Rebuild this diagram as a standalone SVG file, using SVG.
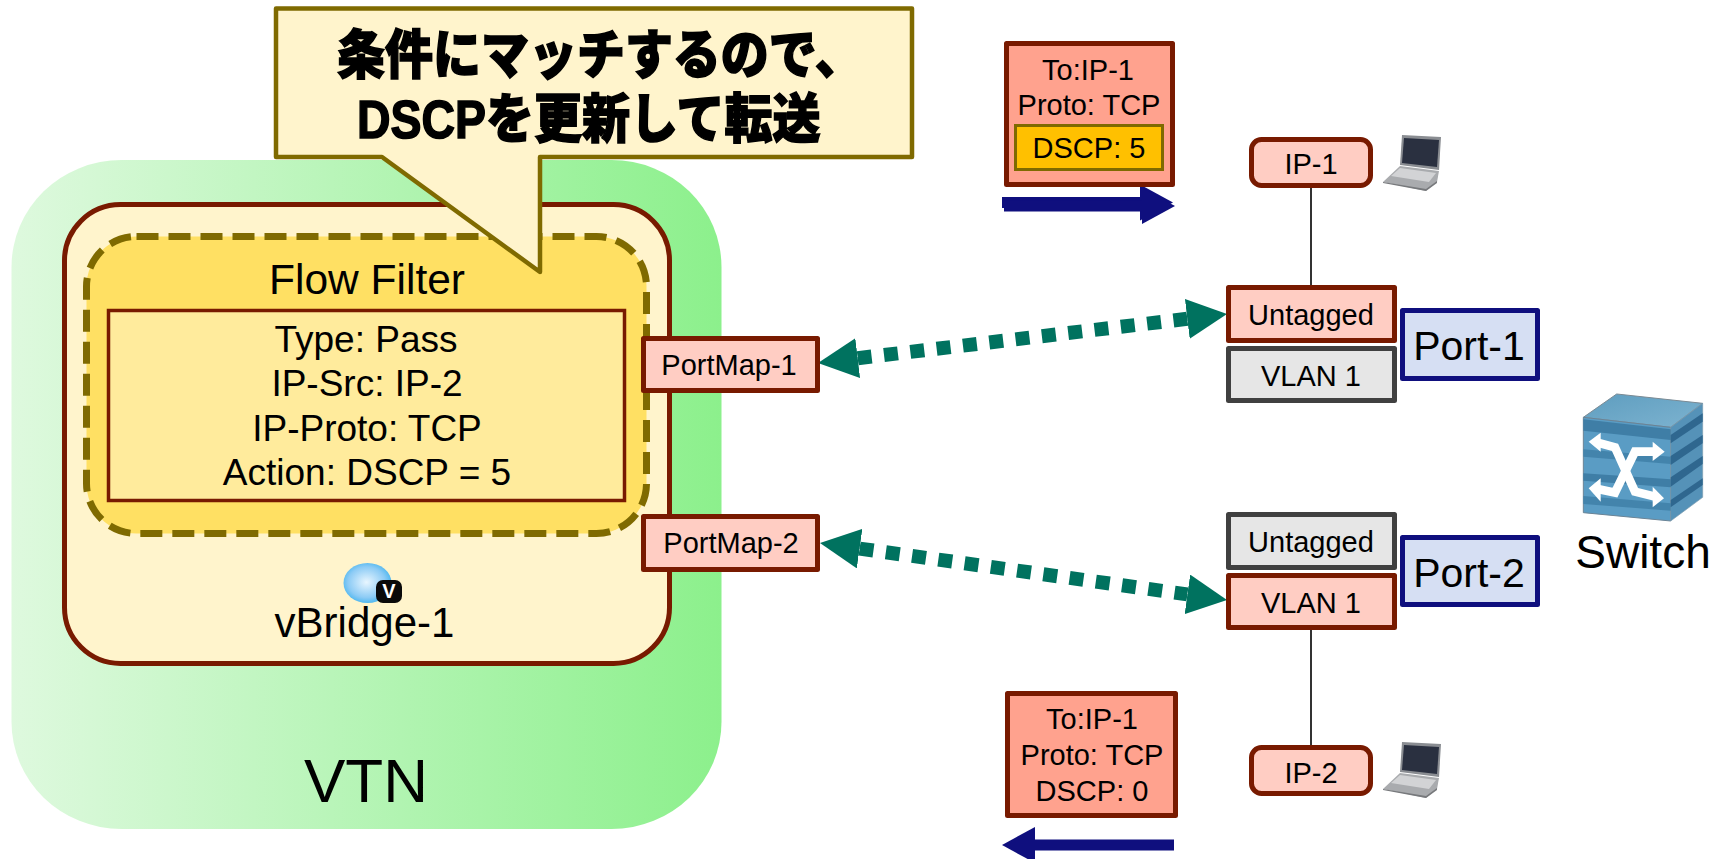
<svg xmlns="http://www.w3.org/2000/svg" xmlns:xlink="http://www.w3.org/1999/xlink" width="1723" height="859" viewBox="0 0 1723 859">
<style>
text{font-family:"Liberation Sans",Arial,sans-serif;fill:#000;text-anchor:middle}
.cjk{font-family:"Liberation Sans","Noto Sans CJK JP",sans-serif;font-weight:900;stroke:#000;stroke-width:1.4;text-anchor:start}
.red{fill:#FFCDC3;stroke:#781A00;stroke-width:5;stroke-linejoin:round}
.grey{fill:#E6E6E6;stroke:#404040;stroke-width:5;stroke-linejoin:round}
.pkt{fill:#FFA28E;stroke:#781A00;stroke-width:5;stroke-linejoin:round}
.port{fill:#D6DFF3;stroke:#0F0F7E;stroke-width:5;stroke-linejoin:round}
.wire{stroke:#333;stroke-width:2;fill:none}
.green{stroke:#00725F;stroke-width:14;stroke-dasharray:14 12.500;fill:none;marker-start:url(#gh);marker-end:url(#gh)}
.navy{stroke:#0F0F7E;stroke-width:11;fill:none;marker-end:url(#nh)}
</style>
<defs>
<linearGradient id="vtnG" x1="0" x2="1" y1="0" y2="0"><stop offset="0" stop-color="#DEF9DE"/><stop offset="1" stop-color="#8CF08C"/></linearGradient>
<radialGradient id="ballG" cx="0.48" cy="0.48" r="0.55"><stop offset="0" stop-color="#E8F6FF"/><stop offset="0.7" stop-color="#8CCBF5"/><stop offset="1" stop-color="#45B4EE"/></radialGradient>
<linearGradient id="topG" x1="0" x2="1" y1="0" y2="1"><stop offset="0" stop-color="#5E9DBF"/><stop offset="1" stop-color="#7DB3D0"/></linearGradient>
<marker id="gh" viewBox="0 0 40 40" refX="0" refY="20" markerWidth="40" markerHeight="40" markerUnits="userSpaceOnUse" orient="auto-start-reverse"><path d="M0,0L40,20L0,40z" fill="#00725F"/></marker>
<marker id="nh" viewBox="0 0 33 36" refX="0" refY="18" markerWidth="33" markerHeight="36" markerUnits="userSpaceOnUse" orient="auto"><path d="M0,0L33,18L0,36z" fill="#0F0F7E"/></marker>
<g id="laptop">
<polygon points="19,0 58,2 56,35 17,30" fill="#8A8D92"/>
<polygon points="21,3 56,5 54,32 19,28" fill="#2A3040"/>
<polygon points="17,31 56,36 54,47 43,56 0,47" fill="#A9ABAE"/>
<polygon points="17,33 53,38 46,47 8,41" fill="#D2D3D5"/>
<polygon points="0,47 43,54 54,46 54,48 43,56 0,48" fill="#77797C"/>
</g>
</defs>
<g id="vtn">
<rect x="11.500" y="160" width="710" height="669" rx="110" ry="107" fill="url(#vtnG)"/>
<text x="366" y="802" font-size="62">VTN</text>
</g>
<g id="vbridge-1">
<rect x="64.500" y="204.500" width="605" height="459" rx="56" ry="56" fill="#FFF4CC" stroke="#781A00" stroke-width="5"/>
<ellipse cx="367.500" cy="583" rx="24" ry="20" fill="url(#ballG)"/>
<rect x="376" y="580" width="26" height="23" rx="7" fill="#0A0A0A"/>
<text x="389" y="598" font-size="20" font-weight="bold" style="fill:#fff">V</text>
<text x="364.500" y="637" font-size="42">vBridge-1</text>
</g>
<g id="flow-filter">
<rect x="86.500" y="236.500" width="560" height="297" rx="50" ry="50" fill="#FFE063" stroke="#7F6A00" stroke-width="7" stroke-dasharray="22 10"/>
<text x="367" y="294" font-size="42.500">Flow Filter</text>
<rect x="108.500" y="310.500" width="516" height="190" fill="#FFEB9C" stroke="#781A00" stroke-width="3.500"/>
<text x="366" y="352" font-size="37">Type: Pass</text>
<text x="367" y="396" font-size="37">IP-Src: IP-2</text>
<text x="367" y="440.500" font-size="37">IP-Proto: TCP</text>
<text x="367" y="485" font-size="37">Action: DSCP = 5</text>
</g>
<g id="callout">
<path d="M276,8.500H912V157H540V272L382,157H276z" fill="#FFF4CC" stroke="#7F6A00" stroke-width="4.500" stroke-linejoin="round"/>
<text class="cjk" transform="translate(0 74) scale(1 1.110)" font-size="48"><tspan x="337" y="0">条件にマッチするので、</tspan><tspan x="357" y="57.700" textLength="129" lengthAdjust="spacingAndGlyphs">DSCP</tspan><tspan>を更新して転送</tspan></text>
</g>
<g id="connectors">
<line class="wire" x1="1311" y1="188" x2="1311" y2="285"/>
<line class="wire" x1="1311" y1="630" x2="1311" y2="745"/>
<line class="green" x1="857.700" y1="358.200" x2="1187.300" y2="318.800"/>
<line class="green" x1="859.600" y1="548.600" x2="1187.400" y2="594.400"/>
<line class="navy" x1="1002" y1="202.500" x2="1140" y2="202.500"/>
<line class="navy" x1="1004" y1="206" x2="1142" y2="206"/>
<line class="navy" x1="1174" y1="845" x2="1035" y2="845"/>
</g>
<g id="portmap-1">
<rect class="red" x="643.500" y="338.500" width="174" height="52"/>
<text x="729" y="375" font-size="29">PortMap-1</text>
</g>
<g id="portmap-2">
<rect class="red" x="643.500" y="516.500" width="174" height="53"/>
<text x="731" y="553" font-size="29">PortMap-2</text>
</g>
<g id="packet-1">
<rect class="pkt" x="1006.500" y="43.500" width="166" height="141"/>
<text x="1088" y="80" font-size="29">To:IP-1</text>
<text x="1089" y="115" font-size="29">Proto: TCP</text>
<rect x="1015.500" y="125.500" width="147" height="44" fill="#FFC000" stroke="#7F6A00" stroke-width="3"/>
<text x="1089" y="158" font-size="29">DSCP: 5</text>
</g>
<g id="packet-2">
<rect class="pkt" x="1007.500" y="693.500" width="168" height="122"/>
<text x="1092" y="729" font-size="29">To:IP-1</text>
<text x="1092" y="765" font-size="29">Proto: TCP</text>
<text x="1092" y="801" font-size="29">DSCP: 0</text>
</g>
<g id="ip-1">
<rect class="red" x="1251.500" y="139.500" width="119" height="46" rx="10"/>
<text x="1311" y="174" font-size="29">IP-1</text>
<use href="#laptop" x="1383" y="135"/>
</g>
<g id="ip-2">
<rect class="red" x="1251.500" y="747.500" width="119" height="46" rx="10"/>
<text x="1311" y="783" font-size="29">IP-2</text>
<use href="#laptop" x="1383" y="742"/>
</g>
<g id="port-1">
<rect class="red" x="1228.500" y="287.500" width="166" height="53"/>
<text x="1311" y="325" font-size="29">Untagged</text>
<rect class="grey" x="1228.500" y="348.500" width="166" height="52"/>
<text x="1311" y="386" font-size="29">VLAN 1</text>
<rect class="port" x="1402.500" y="310.500" width="135" height="68"/>
<text x="1469" y="360" font-size="41">Port-1</text>
</g>
<g id="port-2">
<rect class="grey" x="1228.500" y="514.500" width="166" height="53"/>
<text x="1311" y="552" font-size="29">Untagged</text>
<rect class="red" x="1228.500" y="575.500" width="166" height="52"/>
<text x="1311" y="613" font-size="29">VLAN 1</text>
<rect class="port" x="1402.500" y="537.500" width="135" height="67"/>
<text x="1469" y="587" font-size="41">Port-2</text>
</g>
<g id="switch">
<g transform="translate(1560 390) scale(0.33333)">
<polygon points="70,82 170,12 428,40 332,112" fill="url(#topG)" stroke="#7A8A94" stroke-width="3"/>
<polygon points="70,82 332,112 332,393 70,368" fill="#5A9CC4" stroke="#6A8496" stroke-width="3"/>
<polygon points="332,112 428,40 428,322 332,393" fill="#5592B8" stroke="#7A9AAE" stroke-width="2"/>
<polygon points="70,88 332,118 332,150 70,122" fill="#3F7EA6"/>
<polygon points="70,178 332,200 332,222 70,200" fill="#4384AC"/>
<polygon points="70,250 332,268 332,292 70,272" fill="#3F7EA6"/>
<polygon points="70,318 332,340 332,362 70,342" fill="#4384AC"/>
<polygon points="332,135 428,70 428,95 332,160" fill="#2F678F"/>
<polygon points="332,198 428,135 428,160 332,225" fill="#2F678F"/>
<polygon points="332,262 428,198 428,222 332,290" fill="#2F678F"/>
<polygon points="332,330 428,265 428,285 332,352" fill="#2F678F"/>
<polyline points="110,157 165,172 225,305 285,320" fill="none" stroke="#fff" stroke-width="26"/>
<polyline points="110,296 165,308 225,185 285,185" fill="none" stroke="#fff" stroke-width="26"/>
<polygon points="86,155 122,128 122,185" fill="#fff"/>
<polygon points="314,185 278,155 278,213" fill="#fff"/>
<polygon points="86,295 122,265 122,335" fill="#fff"/>
<polygon points="312,325 278,290 278,352" fill="#fff"/>
</g>
<text x="1643" y="568" font-size="46">Switch</text>
</g>
</svg>
